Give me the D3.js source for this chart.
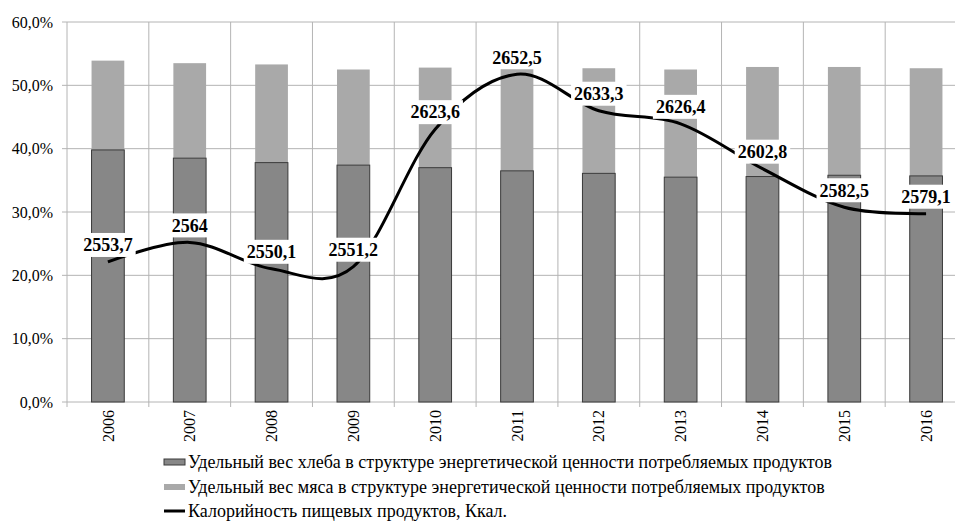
<!DOCTYPE html>
<html>
<head>
<meta charset="utf-8">
<script src="https://cdn.jsdelivr.net/npm/d3@7"></script>
<style>
  body { margin: 0; background: #fff; }
  svg { display: block; }
  svg text { font-family: "Liberation Serif", "Times New Roman", Times, "DejaVu Serif", serif; }
</style>
</head>
<body>
<div id="chart"></div>
<script>
// years on the x axis
var years = ["2006", "2007", "2008", "2009", "2010", "2011", "2012", "2013", "2014", "2015", "2016"];
// share of bread, %
var breadShare = [39.8, 38.5, 37.8, 37.4, 37.0, 36.5, 36.1, 35.5, 35.6, 35.8, 35.7];
// share of meat, % (stacked on top of bread)
var meatShare = [14.1, 15.0, 15.5, 15.1, 15.8, 16.2, 16.6, 17.0, 17.3, 17.1, 17.0];
// calories, kcal (secondary axis, hidden)
var calories = [2553.7, 2564, 2550.1, 2551.2, 2623.6, 2652.5, 2633.3, 2626.4, 2602.8, 2582.5, 2579.1];
var yTicks = [0, 10, 20, 30, 40, 50, 60];
var legendLabels = [
    "Удельный вес хлеба в структуре энергетической ценности потребляемых продуктов",
    "Удельный вес мяса в структуре энергетической ценности потребляемых продуктов",
    "Калорийность пищевых продуктов, Ккал."
];

var W = 955, H = 523;
var margin = {top: 22, left: 67},
    width = 900,
    height = 380;

var svg = d3.select("#chart").append("svg")
    .attr("width", W)
    .attr("height", H);

var g = svg.append("g")
    .attr("transform", "translate(" + margin.left + "," + margin.top + ")");

var x = d3.scaleBand()
    .domain(years)
    .range([0, width])
    .paddingInner(0.6)
    .paddingOuter(0.3);

var y = d3.scaleLinear()
    .domain([0, 60])
    .range([height, 0]);

var y2 = d3.scaleLinear()
    .domain([2480, 2680])
    .range([height, 0]);

var gridColor = "#b4b4b4";

// horizontal grid
g.append("g").selectAll("line")
    .data(yTicks)
    .enter().append("line")
    .attr("x1", -5)
    .attr("x2", width)
    .attr("y1", function (d) { return y(d); })
    .attr("y2", function (d) { return y(d); })
    .style("stroke", gridColor)
    .style("stroke-width", "1px");

// vertical grid at category boundaries
var step = x.step();
g.append("g").selectAll("line")
    .data(d3.range(years.length + 1))
    .enter().append("line")
    .attr("x1", function (i) { return i * step; })
    .attr("x2", function (i) { return i * step; })
    .attr("y1", 0)
    .attr("y2", height + 5)
    .style("stroke", gridColor)
    .style("stroke-width", "1px");

// y axis labels
var yAxis = g.append("g")
    .call(d3.axisLeft(y)
        .tickValues(yTicks)
        .tickSize(0)
        .tickPadding(14)
        .tickFormat(function (d) { return d.toFixed(1).replace(".", ",") + "%"; }));
yAxis.attr("font-family", null);
yAxis.select(".domain").remove();
yAxis.selectAll("text")
    .style("font-size", "16px")
    .style("fill", "#000");

// x axis labels, rotated
var xAxis = g.append("g")
    .attr("transform", "translate(0," + height + ")")
    .call(d3.axisBottom(x).tickSize(0).tickPadding(0));
xAxis.attr("font-family", null);
xAxis.select(".domain").remove();
xAxis.selectAll("text")
    .attr("transform", "rotate(-90)")
    .attr("x", -8)
    .attr("y", 0)
    .attr("dy", "0.35em")
    .style("text-anchor", "end")
    .style("font-size", "16px")
    .style("fill", "#000");

// meat bars (stacked on bread)
g.append("g").selectAll("rect")
    .data(years)
    .enter().append("rect")
    .attr("x", function (d) { return x(d); })
    .attr("width", x.bandwidth())
    .attr("y", function (d, i) { return y(breadShare[i] + meatShare[i]); })
    .attr("height", function (d, i) { return y(breadShare[i]) - y(breadShare[i] + meatShare[i]); })
    .style("fill", "#a9a9a9");

// bread bars
g.append("g").selectAll("rect")
    .data(years)
    .enter().append("rect")
    .attr("x", function (d) { return x(d); })
    .attr("width", x.bandwidth())
    .attr("y", function (d, i) { return y(breadShare[i]); })
    .attr("height", function (d, i) { return y(0) - y(breadShare[i]); })
    .style("fill", "#878787")
    .style("stroke", "#3a3a3a")
    .style("stroke-width", "1px");

// calorie line
var line = d3.line()
    .x(function (d, i) { return x(years[i]) + x.bandwidth() / 2; })
    .y(function (d) { return y2(d); })
    .curve(d3.curveCardinal.tension(0));

g.append("path")
    .datum(calories)
    .attr("d", line)
    .style("fill", "none")
    .style("stroke", "#000")
    .style("stroke-width", "3px");

// data labels with white boxes
var labels = g.append("g").selectAll("g")
    .data(calories)
    .enter().append("g")
    .attr("transform", function (d, i) {
        return "translate(" + (x(years[i]) + x.bandwidth() / 2) + "," + (y2(d) - 17) + ")";
    });

labels.append("text")
    .attr("text-anchor", "middle")
    .attr("dy", "0.35em")
    .style("font-weight", "bold")
    .style("font-size", "18px")
    .text(function (d) { return String(d).replace(".", ","); });

labels.each(function () {
    var grp = d3.select(this);
    var bb = grp.select("text").node().getBBox();
    grp.insert("rect", "text")
        .attr("x", bb.x - 3)
        .attr("y", -12)
        .attr("width", bb.width + 6)
        .attr("height", 24)
        .style("fill", "#fff");
});

// legend
var legend = svg.append("g")
    .attr("transform", "translate(164,0)");
var legendY = [462, 487, 511];

legend.append("rect")
    .attr("x", 0).attr("y", legendY[0] - 3)
    .attr("width", 21).attr("height", 6)
    .style("fill", "#878787")
    .style("stroke", "#3a3a3a")
    .style("stroke-width", "1px");
legend.append("rect")
    .attr("x", 0).attr("y", legendY[1] - 3)
    .attr("width", 21).attr("height", 6)
    .style("fill", "#a9a9a9");
legend.append("line")
    .attr("x1", 0).attr("x2", 21)
    .attr("y1", legendY[2]).attr("y2", legendY[2])
    .style("stroke", "#000")
    .style("stroke-width", "3px");

legend.selectAll("text")
    .data(legendLabels)
    .enter().append("text")
    .attr("x", 24)
    .attr("y", function (d, i) { return legendY[i]; })
    .attr("dy", "0.35em")
    .style("font-size", "18px")
    .text(function (d) { return d; });
</script>
</body>
</html>
